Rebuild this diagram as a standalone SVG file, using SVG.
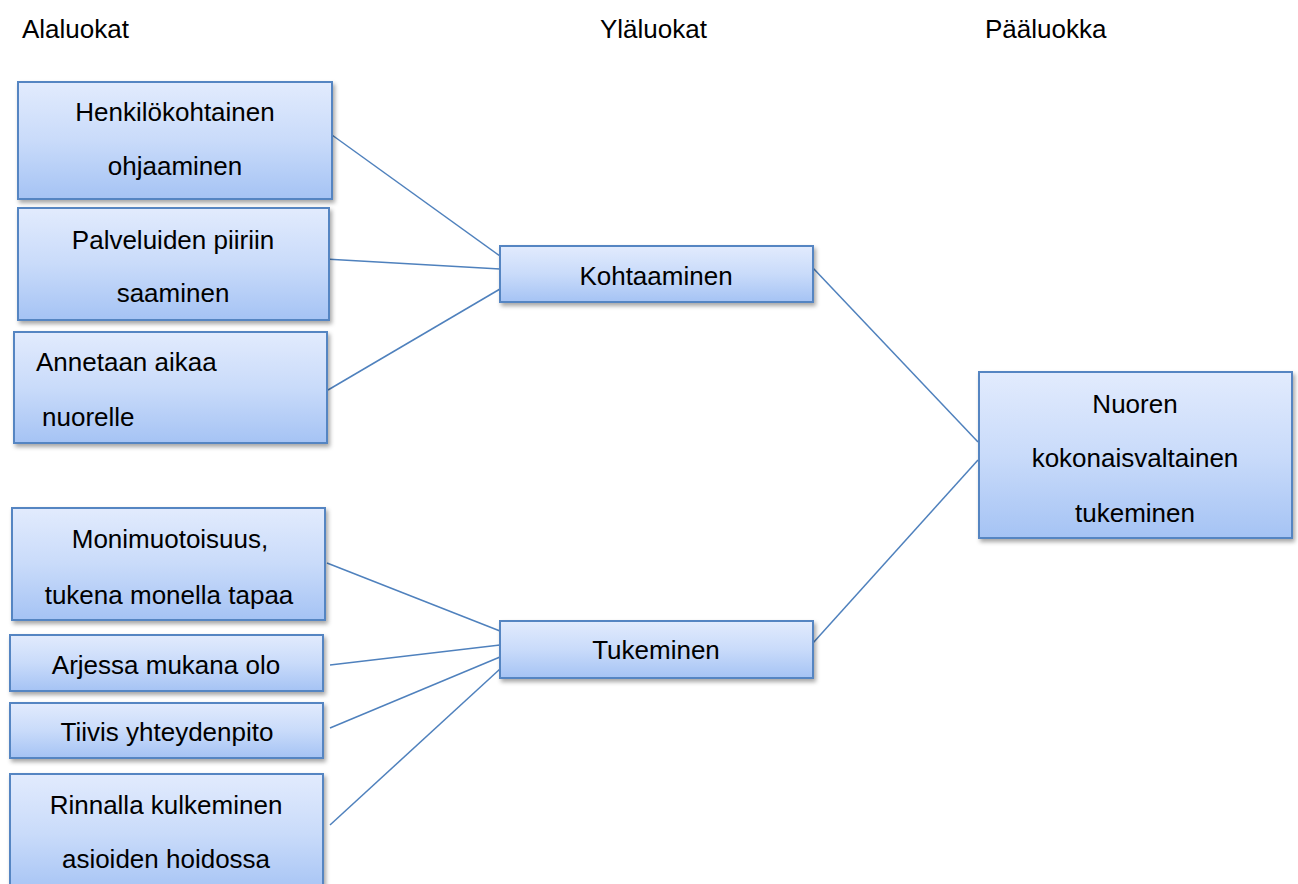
<svg xmlns="http://www.w3.org/2000/svg" width="1298" height="884" viewBox="0 0 1298 884">
<defs>
<linearGradient id="g" x1="0" y1="0" x2="0" y2="1">
<stop offset="0" stop-color="#e2ebfd"/>
<stop offset="0.5" stop-color="#c9dbfa"/>
<stop offset="1" stop-color="#a5c3f4"/>
</linearGradient>
<filter id="sh" x="-10%" y="-10%" width="120%" height="130%">
<feDropShadow dx="2" dy="3" stdDeviation="2" flood-color="#000" flood-opacity="0.35"/>
</filter>
</defs>
<style>
.box{fill:url(#g);stroke:#5485c2;stroke-width:2;filter:url(#sh)}
text{font-family:"Liberation Sans",Arial,sans-serif;font-size:26px;fill:#000}
.c{text-anchor:middle}
.ln{stroke:#4f81bd;stroke-width:1.5;fill:none}
</style>
<rect width="1298" height="884" fill="#fff"/>
<g id="headers">
<text x="22" y="38">Alaluokat</text>
<text x="600" y="38">Yläluokat</text>
<text x="985" y="38">Pääluokka</text>
</g>
<g id="connectors">
<line class="ln" x1="332" y1="135" x2="500" y2="256"/>
<line class="ln" x1="325" y1="259" x2="500" y2="269"/>
<line class="ln" x1="328" y1="390" x2="500" y2="289"/>
<line class="ln" x1="813" y1="268" x2="978" y2="442"/>
<line class="ln" x1="813" y1="643" x2="978" y2="460"/>
<line class="ln" x1="327" y1="563" x2="500" y2="631"/>
<line class="ln" x1="330" y1="665" x2="500" y2="645"/>
<line class="ln" x1="330" y1="728" x2="500" y2="657"/>
<line class="ln" x1="330" y1="825" x2="500" y2="669"/>
</g>
<g id="n1"><rect class="box" x="18" y="82" width="314" height="117"/>
<text class="c" x="175" y="121">Henkilökohtainen</text>
<text class="c" x="175" y="175">ohjaaminen</text></g>
<g id="n2"><rect class="box" x="18" y="208" width="311" height="112"/>
<text class="c" x="173" y="249">Palveluiden piiriin</text>
<text class="c" x="173" y="302">saaminen</text></g>
<g id="n3"><rect class="box" x="14" y="332" width="313" height="111"/>
<text x="36" y="371">Annetaan aikaa</text>
<text x="42" y="426">nuorelle</text></g>
<g id="n4"><rect class="box" x="500" y="246" width="313" height="56"/>
<text class="c" x="656" y="285">Kohtaaminen</text></g>
<g id="n5"><rect class="box" x="979" y="372" width="313" height="166"/>
<text class="c" x="1135" y="413">Nuoren</text>
<text class="c" x="1135" y="467">kokonaisvaltainen</text>
<text class="c" x="1135" y="522">tukeminen</text></g>
<g id="n6"><rect class="box" x="12" y="508" width="313" height="112"/>
<text class="c" x="170" y="548">Monimuotoisuus,</text>
<text class="c" x="169" y="604">tukena monella tapaa</text></g>
<g id="n7"><rect class="box" x="10" y="635" width="313" height="56"/>
<text class="c" x="166" y="674">Arjessa mukana olo</text></g>
<g id="n8"><rect class="box" x="10" y="703" width="313" height="55"/>
<text class="c" x="167" y="741">Tiivis yhteydenpito</text></g>
<g id="n9"><rect class="box" x="10" y="774" width="313" height="120"/>
<text class="c" x="166" y="814">Rinnalla kulkeminen</text>
<text class="c" x="166" y="868">asioiden hoidossa</text></g>
<g id="n10"><rect class="box" x="500" y="621" width="313" height="57"/>
<text class="c" x="656" y="659">Tukeminen</text></g>
</svg>
